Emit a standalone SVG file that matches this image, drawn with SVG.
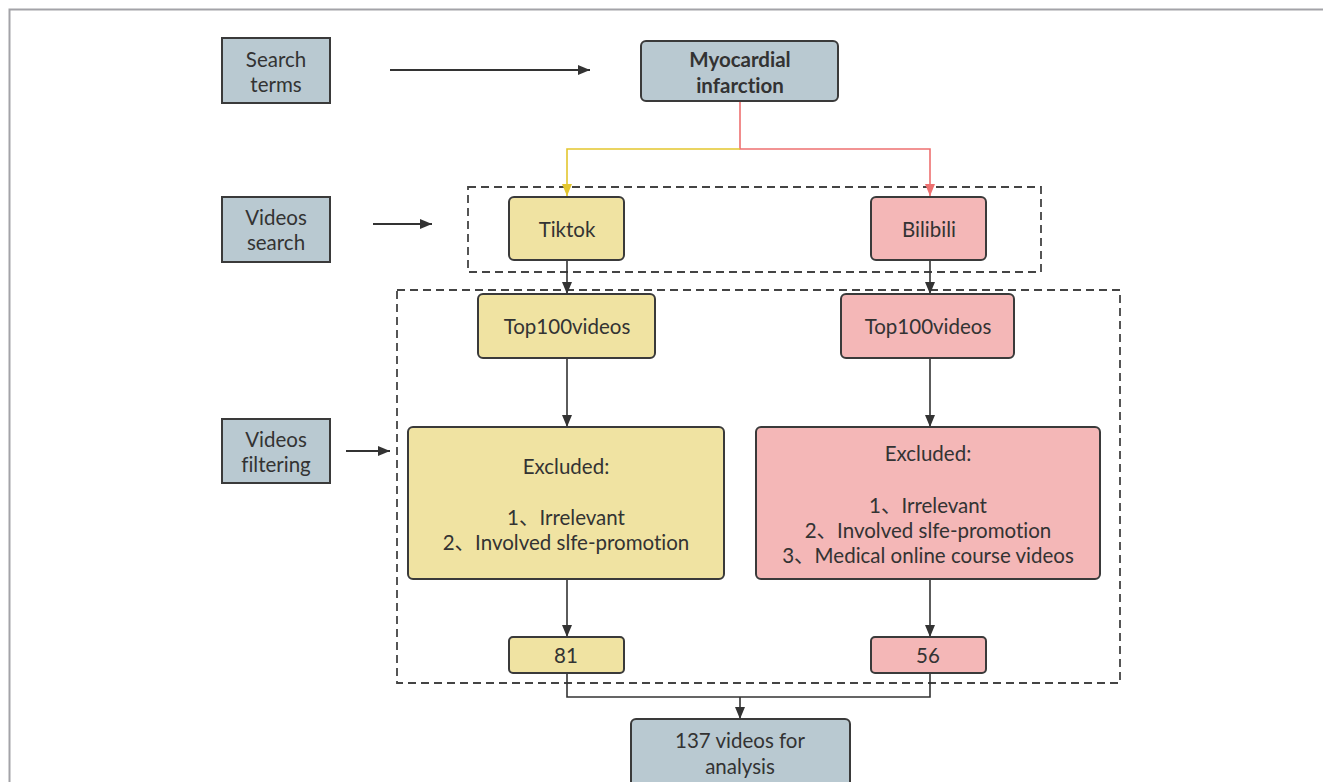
<svg xmlns="http://www.w3.org/2000/svg" width="1323" height="782" viewBox="0 0 1323 782">
<defs>
<style>
text{font-family:Lato,"Noto Sans CJK SC",sans-serif;font-size:20.5px;fill:#333;text-anchor:middle;dominant-baseline:central;font-variant-ligatures:none}
.b{font-weight:bold}
.g{fill:#b9c9d1;stroke:#3a3a3a;stroke-width:2}
.y{fill:#f0e3a2;stroke:#3a3a3a;stroke-width:2}
.p{fill:#f4b7b7;stroke:#3a3a3a;stroke-width:2}
.c{fill:none;stroke:#333;stroke-width:1.6}
.d{fill:none;stroke:#444;stroke-width:1.8;stroke-dasharray:8 5}
</style>
<marker id="a" viewBox="0 0 12 10" refX="12" refY="5" markerWidth="12" markerHeight="10" orient="auto" markerUnits="userSpaceOnUse"><path d="M0,0L12,5L0,10z" fill="#333"/></marker>
<marker id="ay" viewBox="0 0 12 10" refX="12" refY="5" markerWidth="12" markerHeight="10" orient="auto" markerUnits="userSpaceOnUse"><path d="M0,0L12,5L0,10z" fill="#e3c62e"/></marker>
<marker id="ap" viewBox="0 0 12 10" refX="12" refY="5" markerWidth="12" markerHeight="10" orient="auto" markerUnits="userSpaceOnUse"><path d="M0,0L12,5L0,10z" fill="#ee7070"/></marker>
</defs>
<rect width="1323" height="782" fill="#fff"/>
<path d="M9.5,782V9.5H1323" fill="none" stroke="#a3a3a8" stroke-width="2"/>
<g id="frames">
<rect class="d" x="468" y="187" width="573" height="85"/>
<rect class="d" x="397" y="290" width="723" height="393"/>
</g>
<g id="connectors">
<path class="c" d="M390,70H590" marker-end="url(#a)" style="stroke-width:1.8"/>
<path class="c" d="M373,224H432" marker-end="url(#a)" style="stroke-width:1.8"/>
<path class="c" d="M346,451H390" marker-end="url(#a)" style="stroke-width:1.8"/>
<path d="M740,101V149H930V196" fill="none" stroke="#ee7070" stroke-width="1.6" marker-end="url(#ap)"/>
<path d="M740,149H567V196" fill="none" stroke="#e3c62e" stroke-width="1.6" marker-end="url(#ay)"/>
<path class="c" d="M567,260V294" marker-end="url(#a)"/>
<path class="c" d="M930,260V294" marker-end="url(#a)"/>
<path class="c" d="M567,358V427" marker-end="url(#a)"/>
<path class="c" d="M930,358V427" marker-end="url(#a)"/>
<path class="c" d="M567,579V637" marker-end="url(#a)"/>
<path class="c" d="M930,579V637" marker-end="url(#a)"/>
<path class="c" d="M567,673V697H930V673"/>
<path class="c" d="M740,697V719" marker-end="url(#a)"/>
</g>
<g id="search-terms"><rect class="g" x="222" y="38" width="108" height="65"/><text x="276" y="59">Search</text><text x="276" y="84">terms</text></g>
<g id="myocardial"><rect class="g" x="641" y="41" width="197" height="60" rx="5"/><text x="740" y="59" class="b">Myocardial</text><text x="740" y="85" class="b">infarction</text></g>
<g id="videos-search"><rect class="g" x="222" y="197" width="108" height="65"/><text x="276" y="217">Videos</text><text x="276" y="242">search</text></g>
<g id="tiktok"><rect class="y" x="509" y="197" width="115" height="63" rx="5"/><text x="567" y="229">Tiktok</text></g>
<g id="bilibili"><rect class="p" x="871" y="197" width="115" height="63" rx="5"/><text x="929" y="229">Bilibili</text></g>
<g id="top100-left"><rect class="y" x="478" y="294" width="177" height="64" rx="5"/><text x="567" y="326">Top100videos</text></g>
<g id="top100-right"><rect class="p" x="841" y="294" width="173" height="64" rx="5"/><text x="928" y="326">Top100videos</text></g>
<g id="videos-filtering"><rect class="g" x="222" y="419" width="108" height="64"/><text x="276" y="439">Videos</text><text x="276" y="464">filtering</text></g>
<g id="excluded-left"><rect class="y" x="408" y="427" width="316" height="152" rx="5"/><text x="566" y="466">Excluded:</text><text x="566" y="517">1、Irrelevant</text><text x="566" y="542">2、Involved slfe-promotion</text></g>
<g id="excluded-right"><rect class="p" x="756" y="427" width="344" height="152" rx="5"/><text x="928" y="453">Excluded:</text><text x="928" y="505">1、Irrelevant</text><text x="928" y="530">2、Involved slfe-promotion</text><text x="928" y="555">3、Medical online course videos</text></g>
<g id="n81"><rect class="y" x="509" y="637" width="115" height="36" rx="4"/><text x="566" y="655">81</text></g>
<g id="n56"><rect class="p" x="871" y="637" width="115" height="36" rx="4"/><text x="928" y="655">56</text></g>
<g id="result"><rect class="g" x="631" y="719" width="219" height="70" rx="5"/><text x="740" y="740">137 videos for</text><text x="740" y="766">analysis</text></g>
</svg>
